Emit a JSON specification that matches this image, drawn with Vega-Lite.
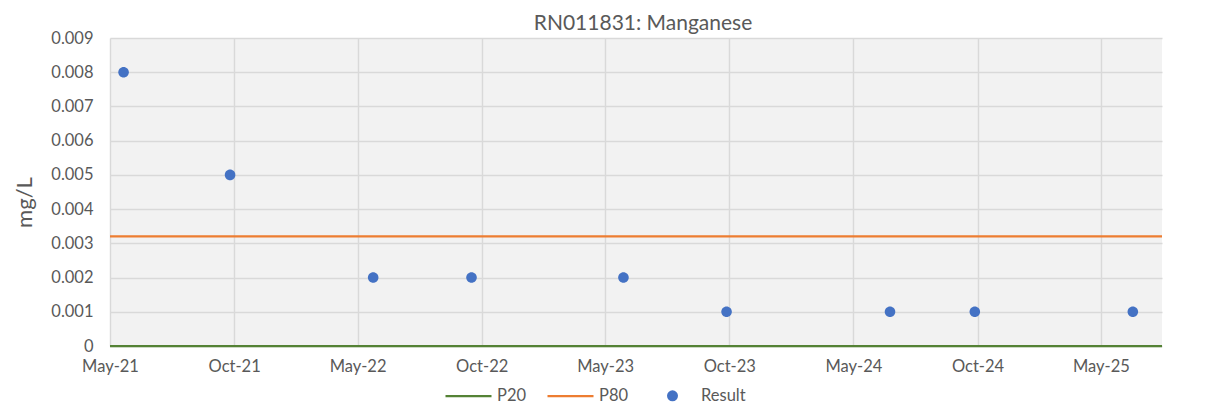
{
  "$schema": "https://vega.github.io/schema/vega-lite/v6.json",
  "width": 1052,
  "height": 308,
  "autosize": "none",
  "padding": {"left": 110, "top": 38, "right": 46, "bottom": 59},
  "background": "white",
  "title": {"text": "RN011831: Manganese", "font": "Lato", "fontSize": 21, "fontWeight": "normal", "color": "#595959", "offset": 0, "dx": 7, "dy": 4},
  "config": {
    "view": {"fill": "#F2F2F2", "stroke": null},
    "font": "Lato",
    "axis": {"labelFont": "Lato", "labelColor": "#595959", "titleFont": "Lato", "titleColor": "#595959", "gridColor": "#D9D9D9", "gridWidth": 1.4, "domain": false, "ticks": false, "labelOverlap": false, "labelFlush": false}
  },
  "layer": [
    {
      "data": {"values": [{"series": "P20", "value": 0}, {"series": "P80", "value": 0.0032}]},
      "mark": {"type": "rule", "strokeWidth": 2.25},
      "encoding": {
        "y": {"field": "value", "type": "quantitative", "scale": {"domain": [0, 0.009], "nice": false, "zero": true},
              "axis": {"title": "mg/L", "titleFontSize": 22, "titleFontWeight": "normal", "titlePadding": 14, "titleY": 164, "labelFontSize": 16.5, "labelPadding": 17, "values": [0, 0.001, 0.002, 0.003, 0.004, 0.005, 0.006, 0.007, 0.008, 0.009], "format": ".3~f"}},
        "color": {"field": "series", "type": "nominal", "scale": {"domain": ["P20", "P80", "Result"], "range": ["#548235", "#ED7D31", "#4472C4"]}}
      }
    },
    {
      "data": {"values": [
        {"date": "2021-05-21", "value": 0.008, "series": "Result"},
        {"date": "2021-10-25", "value": 0.005, "series": "Result"},
        {"date": "2022-05-24", "value": 0.002, "series": "Result"},
        {"date": "2022-10-16", "value": 0.002, "series": "Result"},
        {"date": "2023-05-28", "value": 0.002, "series": "Result"},
        {"date": "2023-10-27", "value": 0.001, "series": "Result"},
        {"date": "2024-06-24", "value": 0.001, "series": "Result"},
        {"date": "2024-10-27", "value": 0.001, "series": "Result"},
        {"date": "2025-06-17", "value": 0.001, "series": "Result"}
      ]},
      "mark": {"type": "point", "filled": true, "size": 3100, "opacity": 1},
      "encoding": {
        "x": {"field": "date", "type": "temporal",
              "scale": {"type": "utc", "domain": [{"year": 2021, "month": 5, "date": 1, "utc": true}, {"year": 2025, "month": 7, "date": 30, "utc": true}]},
              "axis": {"title": null, "labelExpr": "utcFormat(datum.value, '%b-%y')", "labelFontSize": 16.5, "labelPadding": 12,
                       "values": [
                         {"year": 2021, "month": 5, "date": 1, "utc": true},
                         {"year": 2021, "month": 10, "date": 31, "utc": true},
                         {"year": 2022, "month": 5, "date": 1, "utc": true},
                         {"year": 2022, "month": 10, "date": 31, "utc": true},
                         {"year": 2023, "month": 5, "date": 1, "utc": true},
                         {"year": 2023, "month": 10, "date": 31, "utc": true},
                         {"year": 2024, "month": 5, "date": 1, "utc": true},
                         {"year": 2024, "month": 10, "date": 31, "utc": true},
                         {"year": 2025, "month": 5, "date": 1, "utc": true}
                       ]}},
        "y": {"field": "value", "type": "quantitative",
              "axis": {"title": "mg/L", "titleFontSize": 22, "titleFontWeight": "normal", "titlePadding": 14, "titleY": 164, "labelFontSize": 16.5, "labelPadding": 17, "values": [0, 0.001, 0.002, 0.003, 0.004, 0.005, 0.006, 0.007, 0.008, 0.009], "format": ".3~f"}},
        "color": {"field": "series", "type": "nominal", "scale": {"domain": ["P20", "P80", "Result"], "range": ["#548235", "#ED7D31", "#4472C4"]},
                  "legend": {"title": null, "orient": "none", "direction": "horizontal", "legendX": 334, "legendY": 333, "labelFont": "Lato", "labelFontSize": 16.5, "labelColor": "#595959", "labelOffset": 4, "columnPadding": 1, "gridAlign": "all", "symbolSize": 2116, "symbolStrokeWidth": 2.25,
                             "encode": {"symbols": {"update": {"stroke": {"scale": "color", "field": "value"}, "strokeWidth": {"value": 2.25}, "size": {"value": 2116}, "opacity": {"value": 1}}}}}},
        "shape": {"field": "series", "type": "nominal", "scale": {"domain": ["P20", "P80", "Result"], "range": ["M-1,0L1,0", "M-1,0L1,0", "M0.19,0A0.19,0.19,0,1,1,-0.19,0A0.19,0.19,0,1,1,0.19,0Z"]},
                  "legend": {"title": null, "orient": "none", "direction": "horizontal", "legendX": 334, "legendY": 333, "labelFont": "Lato", "labelFontSize": 16.5, "labelColor": "#595959", "labelOffset": 4, "columnPadding": 1, "gridAlign": "all", "symbolSize": 2116, "symbolStrokeWidth": 2.25,
                             "encode": {"symbols": {"update": {"stroke": {"scale": "color", "field": "value"}, "strokeWidth": {"value": 2.25}, "size": {"value": 2116}, "opacity": {"value": 1}}}}}}
      }
    }
  ]
}
